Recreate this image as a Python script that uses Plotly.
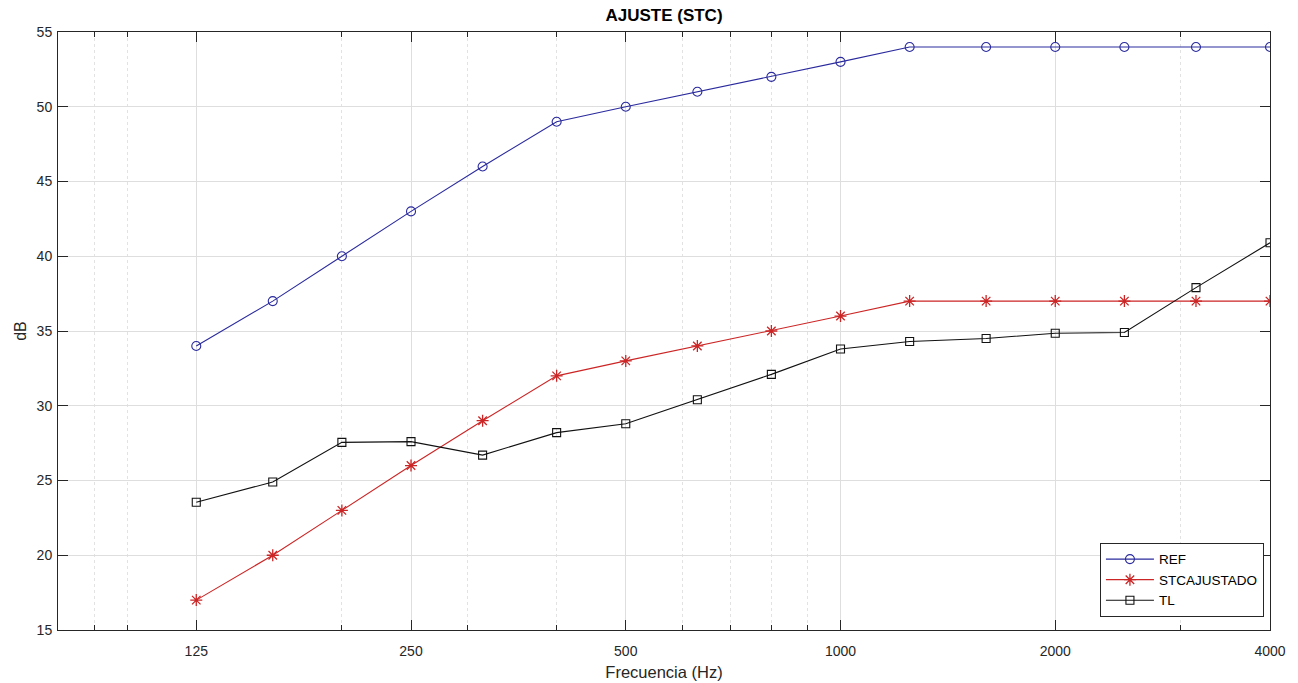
import math
import plotly.graph_objects as go

freqs = [125, 160, 200, 250, 315, 400, 500, 630, 800, 1000, 1250, 1600, 2000, 2500, 3150, 4000]
ref = [34, 37, 40, 43, 46, 49, 50, 51, 52, 53, 54, 54, 54, 54, 54, 54]
stc_ajustado = [17, 20, 23, 26, 29, 32, 33, 34, 35, 36, 37, 37, 37, 37, 37, 37]
tl = [23.55, 24.9, 27.55, 27.6, 26.7, 28.2, 28.8, 30.4, 32.1, 33.8, 34.3, 34.5, 34.85, 34.9, 37.9, 40.9]

x_major_ticks = [125, 250, 500, 1000, 2000, 4000]
x_minor_ticks = [90, 100, 200, 300, 400, 500, 600, 700, 800, 900, 1000, 2000, 3000]
y_ticks = [15, 20, 25, 30, 35, 40, 45, 50, 55]

FONT = "Liberation Sans, Arial, Helvetica, sans-serif"
AXC = "#262626"

W, H = 1298, 683

fig = go.Figure()
fig.add_trace(go.Scatter(
    x=freqs, y=ref, name="REF", mode="lines+markers",
    line=dict(color="#2a2a9e", width=1.1),
    marker=dict(symbol="circle-open", size=9, color="#2a2a9e", line=dict(width=1.1)),
))
fig.add_trace(go.Scatter(
    x=freqs, y=stc_ajustado, name="STCAJUSTADO", mode="lines+markers",
    line=dict(color="#cc2525", width=1.1),
    marker=dict(symbol="asterisk-open", size=10, color="#cc2525", line=dict(width=1.3, color="#cc2525")),
))
fig.add_trace(go.Scatter(
    x=freqs, y=tl, name="TL", mode="lines+markers",
    line=dict(color="#111111", width=1.1),
    marker=dict(symbol="square-open", size=8, color="#111111", line=dict(width=1.1)),
))

fig.update_layout(
    width=W, height=H,
    margin=dict(l=58, r=28, t=32, b=53, pad=0),
    paper_bgcolor="white", plot_bgcolor="white",
    font=dict(family=FONT, size=14, color=AXC),
    title=dict(text="<b>AJUSTE (STC)</b>", x=0.5, xref="paper", xanchor="center",
               y=1 - 15 / H, yref="container", yanchor="middle",
               font=dict(family=FONT, size=17, color="#000000")),
    showlegend=True,
    legend=dict(
        x=0.995, y=0.022, xanchor="right", yanchor="bottom",
        bgcolor="white", bordercolor=AXC, borderwidth=1,
        font=dict(family=FONT, size=13.5, color="#000000"),
        itemwidth=48, tracegroupgap=0,
    ),
)

fig.update_xaxes(
    type="log", range=[math.log10(80), math.log10(4000)],
    tickmode="array", tickvals=x_major_ticks, ticktext=[str(v) for v in x_major_ticks],
    ticks="inside", ticklen=10, tickwidth=1, tickcolor=AXC,
    showline=True, linecolor=AXC, linewidth=1, mirror="ticks",
    showgrid=True, gridcolor="#dedede", gridwidth=1,
    zeroline=False, ticklabelstandoff=8, automargin=False,
    tickfont=dict(family=FONT, size=14, color=AXC),
    title=dict(text="Frecuencia (Hz)", font=dict(family=FONT, size=16.5, color=AXC), standoff=8),
    minor=dict(tickmode="array", tickvals=x_minor_ticks, ticks="inside", ticklen=5,
               tickcolor=AXC, tickwidth=1, showgrid=True, gridcolor="#e2e2e2",
               griddash="dot", gridwidth=1),
)
fig.update_yaxes(
    range=[15, 55], tickmode="array", tickvals=y_ticks,
    ticks="inside", ticklen=10, tickwidth=1, tickcolor=AXC,
    showline=True, linecolor=AXC, linewidth=1, mirror="ticks",
    showgrid=True, gridcolor="#dedede", gridwidth=1,
    zeroline=False, ticklabelstandoff=2, automargin=False,
    tickfont=dict(family=FONT, size=14, color=AXC),
    title=dict(text="dB", font=dict(family=FONT, size=16, color=AXC), standoff=6),
)

fig.write_html(
    "out.html",
    config={"displayModeBar": False},
    post_script="document.body.style.margin='0';document.body.style.overflow='hidden';",
)
